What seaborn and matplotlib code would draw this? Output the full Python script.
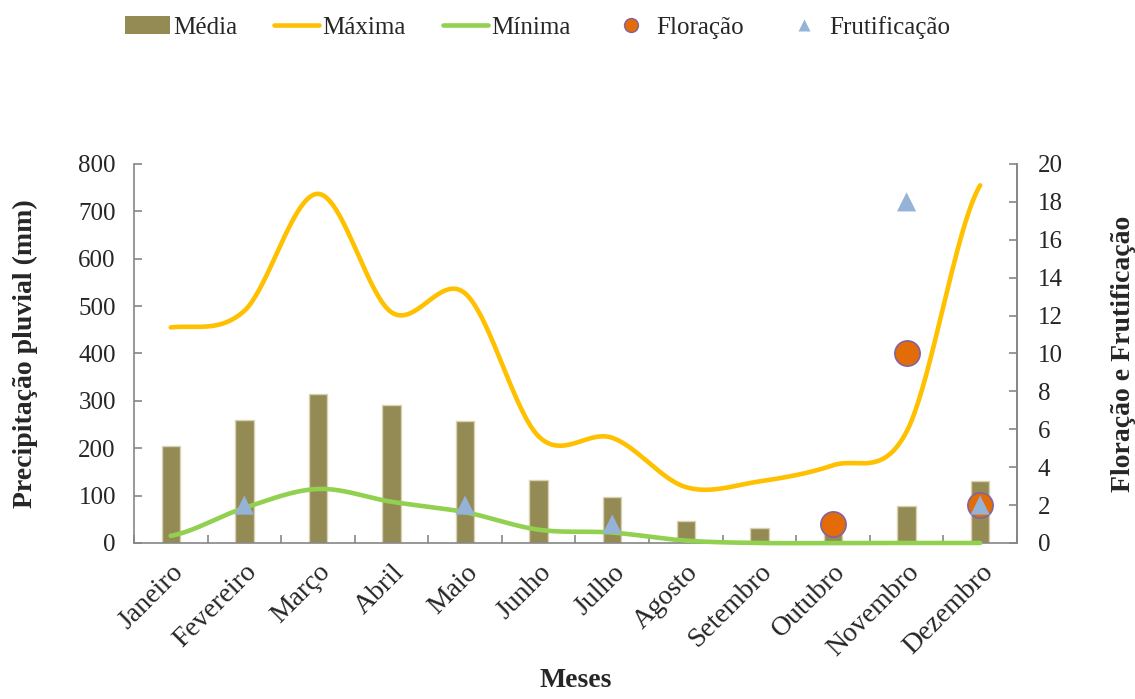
import numpy as np
import pandas as pd
import matplotlib
matplotlib.use("Agg")
import matplotlib.pyplot as plt
import seaborn as sns
from matplotlib.patches import Patch
from matplotlib.lines import Line2D

# Monthly rainfall (mm) and phenology counts
meses = ["Janeiro", "Fevereiro", "Março", "Abril", "Maio", "Junho",
         "Julho", "Agosto", "Setembro", "Outubro", "Novembro", "Dezembro"]
media = [205, 260, 315, 292, 257, 133, 97, 46, 32, 25, 79, 131]
maxima = [455, 490, 737, 487, 527, 225, 222, 118, 130, 164, 235, 755]
minima = [15, 74, 114, 87, 65, 28, 22, 5, 0, 0, 0, 0]
floracao = [np.nan, np.nan, np.nan, np.nan, np.nan, np.nan,
            np.nan, np.nan, np.nan, 1, 10, 2]
frutificacao = [np.nan, 2, np.nan, np.nan, 2, np.nan,
                1, np.nan, np.nan, np.nan, 18, 2]

C_MEDIA = "#948A54"
C_MAX = "#FFC000"
C_MIN = "#92D050"
C_FLOR = "#E36C09"
C_FLOR_EDGE = "#8064A2"
C_FRUT = "#95B3D7"
C_AXIS = "#868686"

FS_TICK = 18
FS_XTICK = 20
FS_LABEL = 20


def smooth(values, n=40):
    """Bezier smoothing through every point (spreadsheet-style smoothed line)."""
    y = np.asarray(values, dtype=float)
    x = np.arange(len(y), dtype=float)
    xs, ys = [], []
    for i in range(len(y) - 1):
        y0 = y[i - 1] if i > 0 else y[i]
        y3 = y[i + 2] if i + 2 < len(y) else y[i + 1]
        p0, p3 = y[i], y[i + 1]
        p1 = p0 + (p3 - y0) / 6.0
        p2 = p3 - (y3 - p0) / 6.0
        t = np.linspace(0, 1, n, endpoint=(i == len(y) - 2))
        b = ((1 - t) ** 3) * p0 + 3 * ((1 - t) ** 2) * t * p1 + 3 * (1 - t) * t ** 2 * p2 + t ** 3 * p3
        xs.append(x[i] + t)
        ys.append(b)
    return np.concatenate(xs), np.concatenate(ys)


sns.set_theme(style="white")
plt.rcParams["font.family"] = ["Liberation Serif", "DejaVu Serif"]

fig = plt.figure(figsize=(11.35, 6.99), dpi=100)
ax = fig.add_axes([0.118, 0.2232, 0.778, 0.5422])

df = pd.DataFrame({"mes": meses, "media": media})
sns.barplot(data=df, x="mes", y="media", color=C_MEDIA, width=0.25,
            saturation=1, edgecolor="#D8D2B4", linewidth=1.0, ax=ax, zorder=2)

xs, ys = smooth(maxima)
sns.lineplot(x=xs, y=ys, color=C_MAX, linewidth=3.3, ax=ax, sort=False,
             zorder=3, solid_capstyle="round", clip_on=False)
xs, ys = smooth(minima)
sns.lineplot(x=xs, y=ys, color=C_MIN, linewidth=3.3, ax=ax, sort=False,
             zorder=3, solid_capstyle="round", clip_on=False)

ax.set_xlim(-0.5, 11.5)
ax.set_ylim(0, 800)
ax.set_yticks(range(0, 801, 100))
ax.set_xticks(np.arange(12))
ax.set_xticklabels(meses, rotation=45, ha="right", rotation_mode="anchor",
                   fontsize=FS_XTICK)
ax.tick_params(axis="x", length=0, pad=12)
ax.set_xticks(np.arange(-0.5, 12, 1), minor=True)
ax.tick_params(axis="x", which="minor", direction="in", length=6,
               width=1.2, color=C_AXIS, bottom=True)
ax.tick_params(axis="y", direction="in", length=6, width=1.2, color=C_AXIS,
               labelsize=FS_TICK, left=True, pad=13)
ax.set_xlabel("Meses", fontsize=FS_LABEL, fontweight="bold")
ax.xaxis.set_label_coords(0.5, -0.33)
ax.set_ylabel("Precipitação pluvial (mm)", fontsize=FS_LABEL,
              fontweight="bold", labelpad=29)
for side in ["left", "bottom", "right"]:
    ax.spines[side].set_color(C_AXIS)
    ax.spines[side].set_linewidth(1.2)
ax.spines["top"].set_visible(False)

ax2 = ax.twinx()
idx = np.arange(12)
sns.scatterplot(x=idx, y=floracao, ax=ax2, marker="o", s=330, color=C_FLOR,
                edgecolor=C_FLOR_EDGE, linewidth=1.2, zorder=4, clip_on=False)
sns.scatterplot(x=idx, y=frutificacao, ax=ax2, marker="^", s=190,
                color=C_FRUT, edgecolor="none", linewidth=0, zorder=5,
                clip_on=False)
ax2.set_ylim(0, 20)
ax2.set_xlim(-0.5, 11.5)
ax2.set_yticks(range(0, 21, 2))
ax2.tick_params(axis="y", direction="in", length=6, width=1.2, color=C_AXIS,
                labelsize=FS_TICK, right=True, pad=15)
ax2.set_ylabel("Floração e Frutificação", fontsize=FS_LABEL,
               fontweight="bold", labelpad=35)
ax2.spines["top"].set_visible(False)
ax2.spines["right"].set_color(C_AXIS)
ax2.spines["right"].set_linewidth(1.2)
ax2.spines["left"].set_visible(False)
ax2.spines["bottom"].set_visible(False)
ax2.grid(False)
ax.grid(False)

handles = [
    Patch(facecolor=C_MEDIA, edgecolor="none", label="Média"),
    Line2D([0], [0], color=C_MAX, lw=3.3, label="Máxima"),
    Line2D([0], [0], color=C_MIN, lw=3.3, label="Mínima"),
    Line2D([0], [0], marker="o", ls="none", markersize=10, markerfacecolor=C_FLOR,
           markeredgecolor=C_FLOR_EDGE, label="Floração"),
    Line2D([0], [0], marker="^", ls="none", markersize=8, markerfacecolor=C_FRUT,
           markeredgecolor="none", label="Frutificação"),
]
fig.legend(handles=handles, loc="center", bbox_to_anchor=(0.4736, 0.961),
           ncol=5, frameon=False, fontsize=FS_TICK, handlelength=1.8,
           handletextpad=0.12, columnspacing=1.5)

fig.savefig("out.png", dpi=100)
